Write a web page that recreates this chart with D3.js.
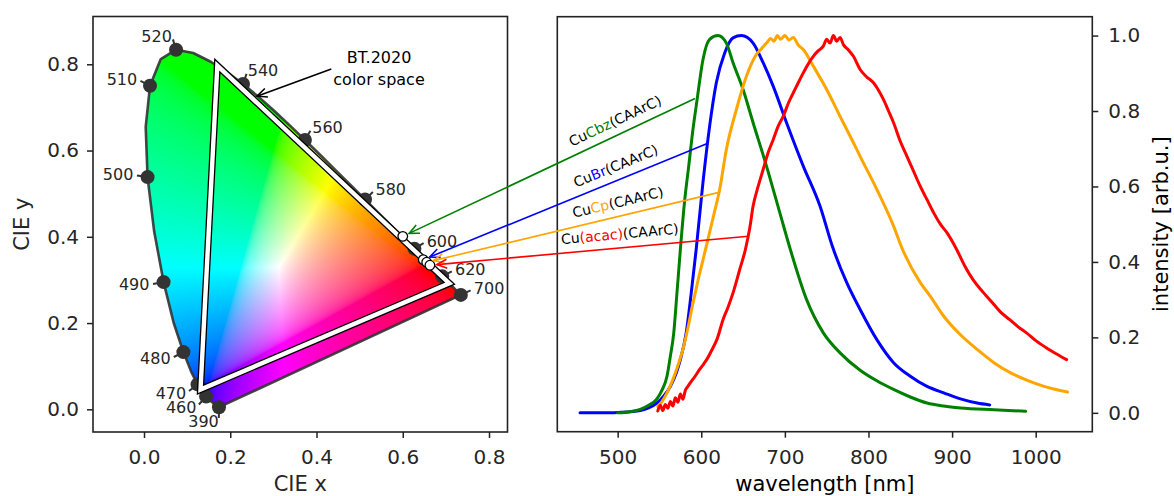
<!DOCTYPE html>
<html>
<head>
<meta charset="utf-8">
<script src="https://cdn.jsdelivr.net/npm/d3@7"></script>
<style>
  body { margin: 0; background: #fff; }
  svg { display: block; font-family: "DejaVu Sans", sans-serif; }
</style>
</head>
<body>
<svg id="chart" width="1174" height="496"></svg>
<script>
// ---- CIE 1931 2 deg spectral locus (chromaticity, 5 nm steps)
const locusNm = [380,385,390,395,400,405,410,415,420,425,430,435,440,445,450,455,460,465,470,475,480,485,490,495,500,505,510,515,520,525,530,535,540,545,550,555,560,565,570,575,580,585,590,595,600,605,610,615,620,625,630,635,640,645,650,655,660,665,670,675,680,685,690,695,700];
const locusX = [0.1741,0.1740,0.1738,0.1736,0.1733,0.1730,0.1726,0.1721,0.1714,0.1703,0.1689,0.1669,0.1644,0.1611,0.1566,0.1510,0.1440,0.1355,0.1241,0.1096,0.0913,0.0687,0.0454,0.0235,0.0082,0.0039,0.0139,0.0389,0.0743,0.1142,0.1547,0.1929,0.2296,0.2658,0.3016,0.3373,0.3731,0.4087,0.4441,0.4788,0.5125,0.5448,0.5752,0.6029,0.6270,0.6482,0.6658,0.6801,0.6915,0.7006,0.7079,0.7140,0.7190,0.7230,0.7260,0.7283,0.7300,0.7311,0.7320,0.7327,0.7334,0.7340,0.7344,0.7346,0.7347];
const locusY = [0.0050,0.0050,0.0049,0.0049,0.0048,0.0048,0.0048,0.0048,0.0051,0.0058,0.0069,0.0086,0.0109,0.0138,0.0177,0.0227,0.0297,0.0399,0.0578,0.0868,0.1327,0.2007,0.2950,0.4127,0.5384,0.6548,0.7502,0.8120,0.8338,0.8262,0.8059,0.7816,0.7543,0.7243,0.6923,0.6589,0.6245,0.5896,0.5547,0.5202,0.4866,0.4544,0.4242,0.3965,0.3725,0.3514,0.3340,0.3197,0.3083,0.2993,0.2920,0.2859,0.2809,0.2770,0.2740,0.2717,0.2700,0.2689,0.2680,0.2673,0.2666,0.2660,0.2656,0.2654,0.2653];
const locusLabels = [390,460,470,480,490,500,510,520,540,560,580,600,620,700];
const whitePoint = [1/3, 1/3];

// BT.2020 primaries (R, G, B)
const bt2020X = [0.708, 0.170, 0.131];
const bt2020Y = [0.292, 0.797, 0.046];
const bt2020Target = [0.262, 0.726];
const bt2020Text = [0.545, 0.789];

// emitters
const emitterNames = ["Cbz", "Br", "Cp", "(acac)"];
const emitterCieX = [0.600, 0.6475, 0.6555, 0.663];
const emitterCieY = [0.401, 0.347, 0.341, 0.334];
const arrowStartNm = [592.5, 606.5, 622.4, 656.2];
const arrowStartI = [0.833, 0.713, 0.585, 0.468];

// emission spectra [nm, normalised intensity]
const cubr = [[455,0],[470,0],[485,0],[500,0.001],[515,0.003],[527,0.006],[537,0.013],[547,0.026],[555,0.044],[563,0.07],[570,0.105],[575,0.141],[582,0.212],[588,0.318],[594,0.435],[602,0.61],[610,0.76],[618,0.875],[628,0.954],[638,0.994],[648,1.0],[662,0.98],[674,0.928],[686,0.866],[702,0.769],[722,0.654],[742,0.548],[757,0.44],[774,0.345],[790,0.274],[810,0.194],[830,0.133],[850,0.097],[870,0.07],[890,0.053],[910,0.037],[930,0.026],[945,0.021]];
const cucbz = [[500,0],[515,0.003],[527,0.009],[537,0.02],[547,0.037],[553,0.06],[559,0.097],[563,0.15],[567,0.21],[571,0.32],[575,0.433],[580,0.56],[585,0.654],[590,0.75],[595,0.83],[602,0.936],[610,0.99],[620,1.0],[630,0.98],[638,0.928],[650,0.857],[662,0.769],[678,0.654],[694,0.53],[706,0.437],[726,0.30],[746,0.212],[766,0.159],[790,0.113],[810,0.085],[830,0.062],[850,0.042],[870,0.026],[890,0.018],[910,0.013],[950,0.008],[988,0.004]];
const cucp = [[548,0.017],[553,0.03],[559,0.053],[566,0.088],[572,0.125],[578,0.168],[584,0.225],[590,0.29],[596,0.35],[602,0.405],[608,0.46],[615,0.525],[622,0.592],[630,0.698],[642,0.804],[654,0.892],[666,0.95],[672,0.965],[678,0.98],[683,0.992],[687,0.985],[691,1.0],[695,0.99],[700,1.0],[705,0.988],[710,0.995],[716,0.975],[722,0.963],[734,0.919],[750,0.857],[766,0.786],[782,0.716],[790,0.68],[810,0.592],[830,0.495],[840,0.437],[862,0.345],[874,0.309],[890,0.256],[910,0.207],[930,0.168],[950,0.133],[970,0.106],[990,0.086],[1010,0.07],[1038,0.055]];
const cuacac = [[548,0.005],[551,0.02],[554,0.006],[557,0.022],[560,0.012],[563,0.03],[566,0.018],[569,0.04],[572,0.028],[575,0.05],[578,0.036],[581,0.06],[584,0.07],[587,0.08],[592,0.095],[598,0.115],[603,0.13],[607,0.143],[613,0.168],[619,0.196],[626,0.247],[632,0.28],[638,0.318],[646,0.38],[653,0.435],[658,0.49],[662,0.548],[668,0.6],[674,0.645],[680,0.69],[686,0.724],[692,0.76],[698,0.786],[704,0.82],[710,0.848],[716,0.875],[722,0.901],[728,0.925],[734,0.945],[740,0.96],[746,0.972],[750,0.99],[754,0.98],[758,1.0],[762,0.985],[766,0.995],[770,0.976],[776,0.962],[782,0.945],[790,0.91],[798,0.89],[806,0.875],[812,0.855],[818,0.83],[824,0.8],[830,0.769],[838,0.72],[846,0.68],[854,0.64],[862,0.6],[870,0.565],[878,0.53],[886,0.5],[894,0.477],[905,0.435],[915,0.39],[925,0.353],[937,0.32],[949,0.29],[959,0.265],[969,0.247],[979,0.228],[989,0.212],[1001,0.19],[1013,0.172],[1025,0.156],[1037,0.141]];

const xTicksCie = [0, 0.2, 0.4, 0.6, 0.8];
const yTicksCie = [0, 0.2, 0.4, 0.6, 0.8];
const wlTicks = [500, 600, 700, 800, 900, 1000];
const intTicks = [0, 0.2, 0.4, 0.6, 0.8, 1.0];

const colors = { Cbz: "green", Br: "blue", Cp: "orange", "(acac)": "red" };

// ---- layout
const L = { x0: 93, x1: 507.5, y0: 16.5, y1: 432 };
const R = { x0: 557.3, x1: 1092.3, y0: 16.7, y1: 431.7 };
const textColor = "#262626";

const xL = d3.scaleLinear().domain([-0.1183, 0.8429]).range([L.x0, L.x1]);
const yL = d3.scaleLinear().domain([-0.0526, 0.9108]).range([L.y1, L.y0]);
const xR = d3.scaleLinear().domain([427.8, 1067.7]).range([R.x0, R.x1]);
const yR = d3.scaleLinear().domain([-0.05, 1.05]).range([R.y1, R.y0]);

const svg = d3.select("#chart");
const defs = svg.append("defs");

// ---- chromaticity fill rendered to a canvas
function srgbEncode(v) {
    return v <= 0.0031308 ? 12.92 * v : 1.055 * Math.pow(v, 1 / 2.4) - 0.055;
}
const cw = Math.round(L.x1 - L.x0), ch = Math.round(L.y1 - L.y0);
const canvas = document.createElement("canvas");
canvas.width = cw; canvas.height = ch;
const ctx = canvas.getContext("2d");
const img = ctx.createImageData(cw, ch);
for (let j = 0; j < ch; j++) {
    const cy = yL.invert(L.y0 + j + 0.5);
    for (let i = 0; i < cw; i++) {
        const cx = xL.invert(L.x0 + i + 0.5);
        const k = (j * cw + i) * 4;
        if (cy <= 0.001) { img.data[k + 3] = 0; continue; }
        const X = cx / cy, Y = 1, Z = (1 - cx - cy) / cy;
        let r = srgbEncode(3.2406 * X - 1.5372 * Y - 0.4986 * Z);
        let g = srgbEncode(-0.9689 * X + 1.8758 * Y + 0.0415 * Z);
        let b = srgbEncode(0.0557 * X - 0.2040 * Y + 1.0570 * Z);
        const m = Math.max(r, g, b);
        r = Math.min(1, Math.max(0, r / m));
        g = Math.min(1, Math.max(0, g / m));
        b = Math.min(1, Math.max(0, b / m));
        img.data[k] = r * 255; img.data[k + 1] = g * 255; img.data[k + 2] = b * 255; img.data[k + 3] = 255;
    }
}
ctx.putImageData(img, 0, 0);

const locusPts = locusNm.map((d, i) => [xL(locusX[i]), yL(locusY[i])]);
const locusPath = "M" + locusPts.map(p => p.join(",")).join("L") + "Z";

defs.append("clipPath").attr("id", "locusClip").append("path").attr("d", locusPath);
defs.append("clipPath").attr("id", "rightClip").append("rect")
    .attr("x", R.x0).attr("y", R.y0).attr("width", R.x1 - R.x0).attr("height", R.y1 - R.y0);

const left = svg.append("g");
left.append("image")
    .attr("href", canvas.toDataURL())
    .attr("x", L.x0).attr("y", L.y0).attr("width", cw).attr("height", ch)
    .attr("clip-path", "url(#locusClip)");

left.append("path").attr("d", locusPath)
    .attr("fill", "none").attr("stroke", "#333").attr("stroke-width", 2.6)
    .attr("stroke-opacity", 0.9).attr("stroke-linejoin", "round");

// wavelength markers with normal ticks
locusLabels.forEach(wl => {
    const idx = locusNm.indexOf(wl);
    const a = Math.max(idx - 1, 0), b = Math.min(idx + 1, locusNm.length - 1);
    const px = locusX[idx], py = locusY[idx];
    let tx = locusX[b] - locusX[a], ty = locusY[b] - locusY[a];
    let nx = -ty, ny = tx, nl = Math.hypot(nx, ny);
    nx /= nl; ny /= nl;
    let rx = px - whitePoint[0], ry = py - whitePoint[1];
    const rl = Math.hypot(rx, ry); rx /= rl; ry /= rl;
    if (nx * rx + ny * ry < 0) { nx = -nx; ny = -ny; }
    nx += 0.6 * rx; ny += 0.6 * ry;
    nl = Math.hypot(nx, ny); nx /= nl; ny /= nl;
    const off = 1 / 30;
    left.append("line")
        .attr("x1", xL(px)).attr("y1", yL(py))
        .attr("x2", xL(px + nx * off * 0.75)).attr("y2", yL(py + ny * off * 0.75))
        .attr("stroke", "#333").attr("stroke-width", 2);
    left.append("circle").attr("cx", xL(px)).attr("cy", yL(py)).attr("r", 7).attr("fill", "#333");
    left.append("text")
        .attr("x", xL(px + nx * off)).attr("y", yL(py + ny * off)).attr("dy", "0.35em")
        .attr("text-anchor", nx >= 0 ? "start" : "end")
        .attr("font-size", 16).attr("fill", textColor).text(wl);
});

// BT.2020 triangle
const triPath = "M" + bt2020X.map((x, i) => xL(x) + "," + yL(bt2020Y[i])).join("L") + "Z";
left.append("path").attr("d", triPath).attr("fill", "none")
    .attr("stroke", "#000").attr("stroke-width", 7).attr("stroke-linejoin", "miter");
left.append("path").attr("d", triPath).attr("fill", "none")
    .attr("stroke", "#fff").attr("stroke-width", 4.4).attr("stroke-linejoin", "miter");

// emitter points
emitterNames.forEach((n, i) => {
    left.append("circle").attr("cx", xL(emitterCieX[i])).attr("cy", yL(emitterCieY[i]))
        .attr("r", 4.8).attr("fill", "#fff").attr("stroke", "#000").attr("stroke-width", 1.3);
});

// ---- axes helpers
function frame(box) {
    svg.append("rect").attr("x", box.x0).attr("y", box.y0)
        .attr("width", box.x1 - box.x0).attr("height", box.y1 - box.y0)
        .attr("fill", "none").attr("stroke", "#222").attr("stroke-width", 1.6);
}
function styleAxis(g) {
    g.select(".domain").remove();
    g.selectAll(".tick line").attr("stroke", "#222").attr("stroke-width", 1.5);
    g.selectAll(".tick text").attr("font-size", 20).attr("fill", textColor)
        .attr("font-family", "DejaVu Sans, sans-serif");
}
const f1 = d3.format(".1f");

svg.append("g").attr("transform", `translate(0,${L.y1})`)
    .call(d3.axisBottom(xL).tickValues(xTicksCie).tickFormat(f1).tickSize(6).tickPadding(12))
    .call(styleAxis);
svg.append("g").attr("transform", `translate(${L.x0},0)`)
    .call(d3.axisLeft(yL).tickValues(yTicksCie).tickFormat(f1).tickSize(6).tickPadding(8))
    .call(styleAxis);
frame(L);

svg.append("text").attr("x", (L.x0 + L.x1) / 2).attr("y", 491).attr("text-anchor", "middle")
    .attr("font-size", 21).attr("fill", textColor).text("CIE x");
svg.append("text").attr("transform", `translate(29,${(L.y0 + L.y1) / 2}) rotate(-90)`)
    .attr("text-anchor", "middle").attr("font-size", 21).attr("fill", textColor).text("CIE y");

// ---- right panel: spectra
const line = d3.line().x(d => xR(d[0])).y(d => yR(d[1])).curve(d3.curveMonotoneX);
const curves = svg.append("g").attr("clip-path", "url(#rightClip)");
[[cubr, "Br"], [cucbz, "Cbz"], [cucp, "Cp"], [cuacac, "(acac)"]].forEach(([data, key]) => {
    curves.append("path").datum(data).attr("d", line)
        .attr("fill", "none").attr("stroke", colors[key]).attr("stroke-width", 3)
        .attr("stroke-linejoin", "round").attr("stroke-linecap", "round");
});

svg.append("g").attr("transform", `translate(0,${R.y1})`)
    .call(d3.axisBottom(xR).tickValues(wlTicks).tickFormat(d3.format("d")).tickSize(6).tickPadding(12))
    .call(styleAxis);
svg.append("g").attr("transform", `translate(${R.x1},0)`)
    .call(d3.axisRight(yR).tickValues(intTicks).tickFormat(f1).tickSize(6).tickPadding(10))
    .call(styleAxis);
frame(R);

svg.append("text").attr("x", (R.x0 + R.x1) / 2).attr("y", 491).attr("text-anchor", "middle")
    .attr("font-size", 21).attr("fill", "#000").text("wavelength [nm]");
svg.append("text").attr("transform", `translate(1168,${(R.y0 + R.y1) / 2}) rotate(-90)`)
    .attr("text-anchor", "middle").attr("font-size", 21).attr("fill", "#000").text("intensity [arb.u.]");

// ---- arrows and labels
function arrow(g, x1, y1, x2, y2, color, shrink) {
    const dx = x2 - x1, dy = y2 - y1, len = Math.hypot(dx, dy);
    const ux = dx / len, uy = dy / len;
    const tx = x2 - ux * shrink, ty = y2 - uy * shrink;
    g.append("line").attr("x1", x1).attr("y1", y1).attr("x2", tx).attr("y2", ty)
        .attr("stroke", color).attr("stroke-width", 1.6);
    const hl = 10, hw = 4.5;
    const bx = tx - ux * hl, by = ty - uy * hl;
    g.append("path")
        .attr("d", `M${bx - uy * hw},${by + ux * hw}L${tx},${ty}L${bx + uy * hw},${by - ux * hw}`)
        .attr("fill", "none").attr("stroke", color).attr("stroke-width", 1.6);
}

const ann = svg.append("g");
const labelX = 621;
emitterNames.forEach((n, i) => {
    const x1 = xR(arrowStartNm[i]), y1 = yR(arrowStartI[i]);
    const x2 = xL(emitterCieX[i]), y2 = yL(emitterCieY[i]);
    arrow(ann, x1, y1, x2, y2, colors[n], 7);
    const ang = Math.atan2(y1 - y2, x1 - x2);
    const t = (labelX - x2) / (x1 - x2);
    const cx = x2 + t * (x1 - x2), cy = y2 + t * (y1 - y2);
    const px = cx + Math.sin(ang) * 9, py = cy - Math.cos(ang) * 9;
    const txt = ann.append("text")
        .attr("transform", `translate(${px},${py}) rotate(${ang * 180 / Math.PI})`)
        .attr("text-anchor", "middle").attr("font-size", 14).attr("fill", "#000");
    txt.append("tspan").text("Cu");
    txt.append("tspan").attr("fill", colors[n]).text(n);
    txt.append("tspan").text("(CAArC)");
});

// BT.2020 annotation
const btText = ann.append("text").attr("x", xL(bt2020Text[0])).attr("y", yL(bt2020Text[1]))
    .attr("text-anchor", "middle").attr("font-size", 16).attr("fill", "#000");
btText.append("tspan").attr("x", xL(bt2020Text[0])).attr("dy", "-0.35em").text("BT.2020");
btText.append("tspan").attr("x", xL(bt2020Text[0])).attr("dy", "1.35em").text("color space");
const bb = btText.node().getBBox();
arrow(ann, bb.x - 2, yL(bt2020Text[1]), xL(bt2020Target[0]), yL(bt2020Target[1]), "#000", 0);
</script>
</body>
</html>
